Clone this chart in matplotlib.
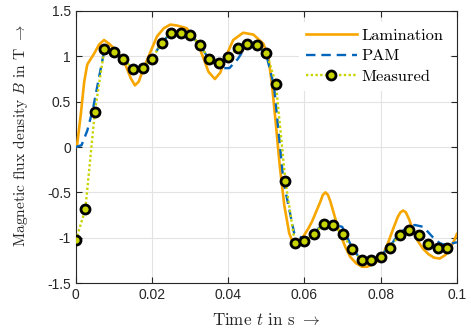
import matplotlib
matplotlib.use("Agg")
import matplotlib.pyplot as plt

# ---- data ----
lam_t = [0, 0.0003, 0.0013, 0.0022, 0.003, 0.0048, 0.0061, 0.0074, 0.0087, 0.0109,
         0.013, 0.0144, 0.0155, 0.0165, 0.0178, 0.0196, 0.0213, 0.0231, 0.0248, 0.0265,
         0.0291, 0.0318, 0.0335, 0.0348, 0.0365, 0.0379, 0.0396, 0.0413, 0.0439, 0.0466,
         0.0492, 0.0505, 0.0515, 0.0525, 0.0535, 0.0547, 0.056, 0.057, 0.0585, 0.0598,
         0.061, 0.062, 0.063, 0.0642, 0.0648, 0.0655, 0.0662, 0.0668, 0.0681, 0.069,
         0.0707, 0.072, 0.0735, 0.0751, 0.0765, 0.078, 0.0795, 0.0807, 0.082, 0.0833,
         0.0845, 0.0852, 0.0859, 0.0866, 0.0875, 0.0885, 0.0898, 0.0911, 0.0925, 0.094,
         0.0955, 0.097, 0.0985, 0.0994, 0.1]
lam_B = [0.0, 0.01, 0.36, 0.72, 0.91, 1.03, 1.13, 1.18, 1.14, 1.05,
         0.91, 0.76, 0.68, 0.72, 0.87, 1.05, 1.22, 1.31, 1.35, 1.34,
         1.31, 1.16, 0.98, 0.83, 0.75, 0.82, 1.02, 1.18, 1.26, 1.24,
         1.14, 1.0, 0.68, 0.25, -0.2, -0.64, -0.95, -1.06, -1.04, -0.98,
         -0.9, -0.82, -0.72, -0.6, -0.53, -0.50, -0.53, -0.6, -0.79, -0.92,
         -1.1, -1.21, -1.28, -1.32, -1.32, -1.29, -1.25, -1.18, -1.05, -0.9,
         -0.77, -0.72, -0.70, -0.72, -0.8, -0.92, -1.04, -1.12, -1.18, -1.22,
         -1.23, -1.19, -1.1, -1.02, -0.96]

pam_t = [0, 0.0015, 0.003, 0.0045, 0.006, 0.0075, 0.01, 0.0127, 0.0148, 0.0173,
         0.0199, 0.0225, 0.025, 0.0273, 0.0299, 0.0325, 0.0349, 0.0372, 0.0385, 0.0403,
         0.0425, 0.0448, 0.0474, 0.0499, 0.052, 0.0545, 0.0573, 0.06, 0.0623, 0.0645,
         0.0671, 0.0699, 0.0724, 0.0747, 0.0771, 0.0796, 0.0822, 0.0847, 0.0871, 0.089,
         0.0912, 0.0938, 0.0955, 0.097, 0.1]
pam_B = [0, 0.02, 0.18, 0.42, 0.75, 1.07, 1.04, 0.95, 0.88, 0.88,
         0.97, 1.15, 1.26, 1.26, 1.24, 1.13, 0.97, 0.9, 0.87, 0.87,
         0.97, 1.12, 1.13, 1.03, 0.68, -0.38, -0.95, -1.02, -0.96, -0.86,
         -0.85, -0.88, -1.1, -1.24, -1.25, -1.21, -1.11, -0.96, -0.88, -0.86,
         -0.88, -1.0, -1.06, -1.08, -1.05]

meas_t = [0, 0.0025, 0.005, 0.0075, 0.01, 0.0125, 0.015, 0.0175, 0.02, 0.0225,
          0.025, 0.0275, 0.03, 0.0325, 0.035, 0.0375, 0.04, 0.0425, 0.045, 0.0475,
          0.05, 0.0525, 0.055, 0.0575, 0.06, 0.0625, 0.065, 0.0675, 0.07, 0.0725,
          0.075, 0.0775, 0.08, 0.0825, 0.085, 0.0875, 0.09, 0.0925, 0.095, 0.0975]
meas_B = [-1.03, -0.685, 0.39, 1.08, 1.05, 0.97, 0.86, 0.87, 0.97, 1.15,
          1.26, 1.26, 1.24, 1.13, 0.97, 0.93, 0.99, 1.09, 1.14, 1.13,
          1.04, 0.70, -0.375, -1.06, -1.04, -0.96, -0.85, -0.86, -0.96, -1.13,
          -1.25, -1.25, -1.21, -1.11, -0.965, -0.91, -0.97, -1.07, -1.11, -1.11]

x_ticks = [0, 0.02, 0.04, 0.06, 0.08, 0.1]
x_labels = ["0", "0.02", "0.04", "0.06", "0.08", "0.1"]
y_ticks = [-1.5, -1, -0.5, 0, 0.5, 1, 1.5]
y_labels = ["-1.5", "-1", "-0.5", "0", "0.5", "1", "1.5"]

# ---- style ----
plt.rcParams['mathtext.fontset'] = 'cm'
plt.rcParams['axes.unicode_minus'] = False

c_lam = '#F7A600'
c_pam = '#0065BD'
c_meas = '#C8D400'
serif = 'cmr10'

fig = plt.figure(figsize=(4.71, 3.33), dpi=100)
ax = fig.add_axes([0.161, 0.150, 0.809, 0.817])

ax.plot(lam_t, lam_B, color=c_lam, lw=1.9, label='Lamination', zorder=3,
        solid_joinstyle='round')
ax.plot(pam_t, pam_B, color=c_pam, lw=1.7, ls=(0, (4, 2.5)), label='PAM', zorder=4)
ax.plot(meas_t, meas_B, color=c_meas, lw=1.7, ls=(0, (1, 1)), marker='o',
        markersize=6.5, markerfacecolor=c_meas, markeredgecolor='black',
        markeredgewidth=2.0, label='Measured', zorder=5)

ax.set_xlim(0, 0.1)
ax.set_ylim(-1.5, 1.5)
ax.set_xticks(x_ticks)
ax.set_xticklabels(x_labels, fontfamily='Liberation Sans', fontsize=10, color='#262626')
ax.set_yticks(y_ticks)
ax.set_yticklabels(y_labels, fontfamily='Liberation Sans', fontsize=10, color='#262626')
ax.tick_params(direction='in', top=True, right=True, length=4, width=0.8, color='#262626')
ax.grid(True, color='#e3e3e3', lw=0.8, zorder=0)
ax.set_axisbelow(True)
for s in ax.spines.values():
    s.set_color('#262626')
    s.set_linewidth(0.8)

ax.set_xlabel(r'Time $t$ in s $\rightarrow$', fontfamily=serif, fontsize=12.2,
              color='#262626')
ax.xaxis.set_label_coords(0.5, -0.108)
ax.set_ylabel(r'Magnetic flux density $B$ in T $\rightarrow$', fontfamily=serif,
              fontsize=11.2, color='#262626')
ax.yaxis.set_label_coords(-0.12, 0.544)

leg = ax.legend(loc='upper right', bbox_to_anchor=(1.0, 0.985), frameon=True,
                prop={'family': serif, 'size': 11.8}, handlelength=3.1,
                handletextpad=0.3, labelspacing=0.38, borderaxespad=0.4,
                fancybox=False)
leg.get_frame().set_edgecolor('none')
leg.get_frame().set_facecolor('white')
leg.get_frame().set_alpha(1.0)

fig.savefig('out.png', dpi=100)
